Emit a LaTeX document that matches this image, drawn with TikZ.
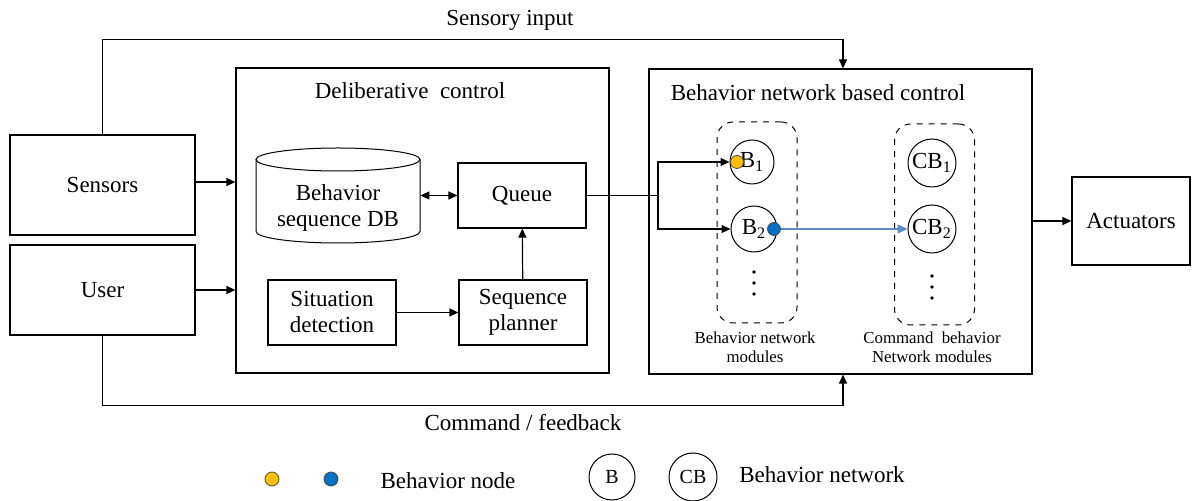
\documentclass[tikz,border=0pt]{standalone}
\usepackage{fontspec}
\setmainfont{Liberation Serif}
\usetikzlibrary{arrows.meta}
\definecolor{dotorange}{RGB}{255,192,0}
\definecolor{dotblue}{RGB}{0,112,192}
\definecolor{linkblue}{RGB}{91,139,206}
\begin{document}
\begin{tikzpicture}[x=0.5pt,y=-0.5pt,
	font=\fontsize{11.5}{13}\selectfont,
	>={Triangle[length=4.5pt,width=4pt]},
	box/.style={draw,line width=0.6pt,inner sep=1pt,align=center},
	module/.style={draw,circle,line width=0.5pt,minimum size=22pt,inner sep=0pt},
	group/.style={draw,dashed,rounded corners=8pt,line width=0.5pt,minimum width=40pt,minimum height=100.5pt},
	small/.style={font=\fontsize{8.4}{9.5}\selectfont,align=center},
	bnode/.style={circle,draw=black!70,line width=0.4pt,minimum size=6.5pt,inner sep=0pt},
	dot/.style={circle,fill=black,inner sep=0pt,minimum size=1.8pt}]
	\useasboundingbox (0,0) rectangle (1200,501);
	% outer blocks
	\node[box,minimum width=92.5pt,minimum height=50pt] (sensors) at (102.5,185) {Sensors};
	\node[box,minimum width=92.5pt,minimum height=45pt] (user) at (102.5,290) {User};
	\node[box,minimum width=59pt,minimum height=44pt] (act) at (1131,221) {Actuators};
	\node[box,minimum width=186.5pt,minimum height=152.5pt] (delib) at (422.5,220.5) {};
	\node (deltitle) at (410,91) {Deliberative\ \ control};
	\node[box,minimum width=191.5pt,minimum height=152.5pt] (bnc) at (840.5,221.5) {};
	\node (bnctitle) at (818,93) {Behavior\ network based control};
	% deliberative part
	\draw[line width=0.5pt] (338,159.5) ellipse [x radius=41pt,y radius=5.75pt];
	\draw[line width=0.5pt] (256,159.5) -- (256,231.5) arc[start angle=180,end angle=360,x radius=41pt,y radius=5.75pt] -- (420,159.5);
	\node[minimum width=82pt,minimum height=47.5pt,align=center,inner sep=1pt] (db) at (338,195.5) {};
	\node[align=center] (dbtext) at (338,208) {Behavior\\sequence DB};
	\node[box,minimum width=64pt,minimum height=32.5pt] (queue) at (522,195.5) {Queue};
	\node[box,minimum width=64pt,minimum height=32.5pt] (sit) at (332,312.5) {Situation\\detection};
	\node[box,minimum width=64pt,minimum height=32.5pt] (plan) at (523,312.5) {Sequence\\planner};
	\draw[<->,line width=0.6pt] (db.east |- queue.west) -- (queue.west);
	\draw[->,line width=0.6pt] (sit) -- (plan);
	\draw[->,line width=0.6pt] (plan) -- (queue);
	% behavior network part
	\node[group] (bgroup) at (757,222.5) {};
	\node[group] (cbgroup) at (934.5,224.5) {};
	\node[module] (b1) at (752,162) {B\textsubscript{1}};
	\node[module,minimum size=23pt] (b2) at (754,229) {B\textsubscript{2}};
	\foreach \y in {272,283,294} \node[dot] at (754,\y) {};
	\node[module,minimum size=24pt] (cb1) at (932,163) {CB\textsubscript{1}};
	\node[module,minimum size=24pt] (cb2) at (932,229) {CB\textsubscript{2}};
	\foreach \y in {276,287,298} \node[dot] at (932,\y) {};
	\node[small] (blabel) at (755,347) {Behavior network\\modules};
	\node[small] (cblabel) at (932,347) {Command\ \ behavior\\Network modules};
	\coordinate (split) at (658,195.5);
	\draw[line width=0.6pt] (queue.east) -- (split);
	\draw[->,line width=0.6pt] (split) |- (b1.west);
	\draw[->,line width=0.6pt] (split) |- (b2.west);
	\node[bnode,fill=dotorange] (nodeA) at (737,162) {};
	\node[bnode,fill=dotblue] (nodeB) at (774,229) {};
	\draw[->,linkblue,line width=0.7pt,>={Triangle[length=5pt,width=4.5pt]}] (nodeB) -- (cb2.west);
	% links between blocks
	\draw[->,line width=0.6pt] (sensors.east |- 0,182) -- (delib.west |- 0,182);
	\draw[->,line width=0.6pt] (user.east) -- (user.east -| delib.west);
	\draw[->,line width=0.6pt] (bnc.east |- act.west) -- (act.west);
	\draw[->,line width=0.6pt] (sensors.north) -- ++(0,-95) -| ([xshift=1.25pt]bnc.north);
	\draw[->,line width=0.6pt] (user.south) -- ++(0,70) -| ([xshift=1.25pt]bnc.south);
	\node (silabel) at (510,20) {Sensory input};
	\node (cflabel) at (523,423) {Command / feedback};
	% legend
	\node[bnode,fill=dotorange,minimum size=7pt] (legA) at (272,479) {};
	\node[bnode,fill=dotblue,minimum size=7pt] (legB) at (331,479) {};
	\node (legtext1) at (448,481) {Behavior\ node};
	\node[module,minimum size=23pt,font=\fontsize{10}{12}\selectfont] (legb) at (612,477) {B};
	\node[module,minimum size=24pt,font=\fontsize{10}{12}\selectfont] (legcb) at (693,477) {CB};
	\node (legtext2) at (822,475) {Behavior network};
\end{tikzpicture}
\end{document}
